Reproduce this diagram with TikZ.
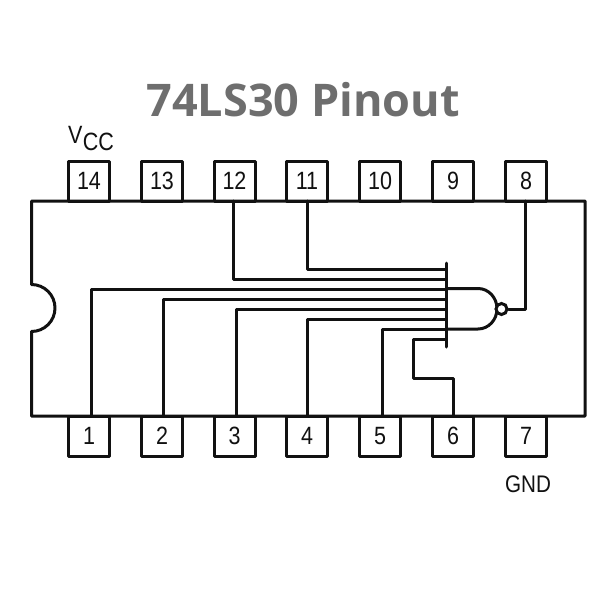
\documentclass[tikz,border=0pt]{standalone}
\usepackage{fontspec}
\setmainfont{Liberation Sans}
\newfontfamily\titlefont{Open Sans}
\definecolor{titlegray}{HTML}{6E6E6E}
\definecolor{inkblack}{HTML}{111111}
\newcommand{\narrowlab}[1]{\scalebox{0.86}[1]{#1}}
\tikzset{
  wire/.style={draw=inkblack,line width=3pt,line join=round,line cap=round},
  pinbox/.style={draw=inkblack,line width=3pt,line join=round,minimum width=41pt,minimum height=40pt,inner sep=0pt,text=inkblack,font=\fontsize{25}{27}\selectfont},
  powerlabel/.style={text=inkblack,inner sep=0pt}
}
\begin{document}
\begin{tikzpicture}[x=1pt,y=-1pt]
\useasboundingbox (0,0) rectangle (600,600);
\fill[white] (0,0) rectangle (600,600);
\node[font=\titlefont\bfseries\fontsize{45}{50}\selectfont,text=titlegray,inner sep=0pt] (title) at (303,99.5) {74LS30 Pinout};
% pins
\foreach \n/\lab/\px in {t14/14/89,t13/13/162,t12/12/234.5,t11/11/307,t10/10/380,t9/9/453,t8/8/526}
  \node[pinbox,fill=white] (\n) at (\px,181) {\narrowlab{\lab}};
\foreach \n/\lab/\px in {b1/1/89,b2/2/162,b3/3/234.5,b4/4/307,b5/5/380,b6/6/453,b7/7/526}
  \node[pinbox,fill=white] (\n) at (\px,436) {\narrowlab{\lab}};
% package outline
\draw[wire] (31.5,201) -- (585,201) -- (585,416) -- (31.5,416) -- (31.5,331.5)
  arc[start angle=-90,end angle=90,radius=23.5pt] -- cycle;
\node[powerlabel,font=\fontsize{25}{27}\selectfont,anchor=base west] (vcc) at (68,143) {\narrowlab{V}};
\node[powerlabel,font=\fontsize{25}{27}\selectfont,anchor=base west] (cc) at (vcc.base east) {\narrowlab{\raisebox{-7pt}{CC}}};
\node[powerlabel,font=\fontsize{24}{26}\selectfont] (gnd) at (528,484) {\narrowlab{GND}};
% gate
\coordinate (barT) at (446,263);
\coordinate (barB) at (446,347);
\draw[wire] (barT) -- (barB);
\draw[wire] (446,288.5) -- (478,288.5) arc[start angle=90,end angle=-90,x radius=19pt,y radius=20.25pt] -- (446,329);
\node[draw=inkblack,line width=3pt,circle,minimum size=11pt,inner sep=0pt,fill=white] (bubble) at (501.5,309) {};
% wires
\coordinate (in12) at (446,279);
\coordinate (in11) at (446,269);
\coordinate (in1) at (446,289);
\coordinate (in2) at (446,299);
\coordinate (in3) at (446,309);
\coordinate (in4) at (446,319);
\coordinate (in5) at (446,329);
\coordinate (in6) at (446,339);
\draw[wire] (233.5,201) |- (in12);
\draw[wire] (307,201) |- (in11);
\draw[wire] (91,416) |- (in1);
\draw[wire] (163,416) |- (in2);
\draw[wire] (236,416) |- (in3);
\draw[wire] (307,416) |- (in4);
\draw[wire] (382,416) |- (in5);
\draw[wire] (453,416) -- (453,378) -- (413,378) -- (413,339) -- (in6);
\draw[wire] (bubble.east) -| (525,201);
\end{tikzpicture}
\end{document}
